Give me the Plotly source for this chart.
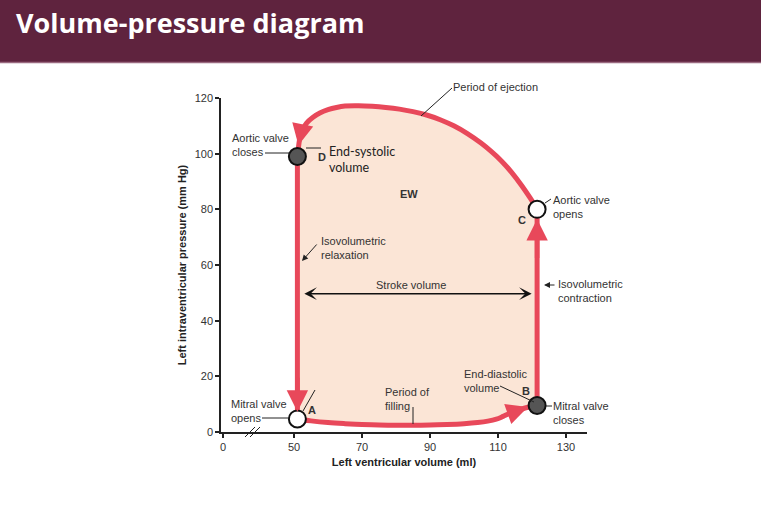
import plotly.graph_objects as go

# ---------------- data ----------------
# Point labels of the cycle (volume ml, pressure mmHg)
point_names = ["A", "B", "C", "D"]
point_vol = [51.0, 121.5, 121.5, 51.0]
point_p = [4.7, 9.5, 80.0, 99.0]
point_filled = [False, True, False, True]

# Isovolumetric relaxation (D -> A)
relax_vol = [51.0, 51.0]
relax_p = [99.0, 4.7]

# Period of filling (A -> B)
fill_vol = [51.0, 52.5, 55, 60, 65, 70, 75, 80, 85, 90, 95, 100, 104, 107, 109.5, 111.5, 113.5, 116, 118.5, 121.5]
fill_p = [4.7, 4.4, 4.0, 3.4, 3.0, 2.7, 2.5, 2.4, 2.4, 2.5, 2.7, 3.0, 3.4, 3.9, 4.6, 5.6, 6.7, 7.8, 8.8, 9.5]

# Isovolumetric contraction (B -> C)
contr_vol = [121.5, 121.5]
contr_p = [9.5, 80.0]

# Period of ejection (C -> D)
eject_vol = [121.5, 119.5, 117, 114, 111, 108, 105, 101, 97, 93, 89, 85, 81, 77, 73, 69,
             65, 62.5, 60, 57.6, 55.5, 53.7, 52.6, 51.8, 51.2]
eject_p = [80, 84.0, 88.5, 93.3, 97.4, 100.8, 103.8, 107.2, 110.0, 112.2, 113.9, 115.1, 116.0, 116.6,
           117.0, 117.2, 117.1, 116.6, 115.8, 114.6, 113.0, 111.0, 108.8, 106.0, 101.0]

# Stroke volume arrow (ml) at pressure level
stroke_vol = [52.6, 119.9]
stroke_p = 49.7

# Axis ticks (broken x axis: "0" placed just before 50)
x_tickvals = [29.1, 50, 70, 90, 110, 130]
x_ticktext = ["0", "50", "70", "90", "110", "130"]
y_tickvals = [0, 20, 40, 60, 80, 100, 120]

# ---------------- layout geometry helpers ----------------
W, H = 761, 507
L, R, T, B = 221, 174, 98, 75
XR = [50 - 73 / 3.4, 50 + 293 / 3.4]
YR = [0, 120]
PW, PH = W - L - R, H - T - B


def pxp(px):
    return (px - L) / PW


def pyp(py):
    return (H - B - py) / PH


RED = "#e8485a"
FILL = "#fbe5d6"
TXT = "#333333"
FONT = "Liberation Sans, Arial, sans-serif"

fig = go.Figure()

# filled loop area
loop_vol = relax_vol + fill_vol + contr_vol + eject_vol
loop_p = relax_p + fill_p + contr_p + eject_p
fig.add_trace(go.Scatter(x=loop_vol, y=loop_p, mode="lines", fill="toself",
                         fillcolor=FILL, line=dict(width=0), hoverinfo="skip"))

# red loop outline
for xs, ys, shp in [(relax_vol, relax_p, "linear"), (fill_vol, fill_p, "spline"),
                    (contr_vol, contr_p, "linear"), (eject_vol, eject_p, "spline")]:
    fig.add_trace(go.Scatter(x=xs, y=ys, mode="lines", line=dict(color=RED, width=5, shape=shp),
                             hoverinfo="skip"))

# valve circles
fig.add_trace(go.Scatter(
    x=point_vol, y=point_p, mode="markers",
    marker=dict(size=17, color=["#555555" if f else "white" for f in point_filled],
                line=dict(color="#111111", width=2)),
    hoverinfo="skip"))

ann = []
shapes = []


# red arrowheads along the loop
def red_arrow(tip, tail):
    ann.append(dict(x=tip[0], y=tip[1], ax=tail[0], ay=tail[1], xref="x", yref="y",
                    axref="x", ayref="y", text="", showarrow=True, arrowhead=2,
                    arrowsize=0.95, arrowwidth=4.5, arrowcolor=RED, standoff=0))


red_arrow((relax_vol[1], 7.3), (relax_vol[1], 20))
red_arrow((118.8, 9.0), (112.5, 6.3))
red_arrow((contr_vol[1], 76.5), (contr_vol[1], 62))
red_arrow((51.3, 103.0), (52.4, 109.5))

# stroke volume double arrow
ann.append(dict(x=stroke_vol[1], y=stroke_p, ax=stroke_vol[0], ay=stroke_p, xref="x", yref="y",
                axref="x", ayref="y", text="", showarrow=True, arrowhead=3, startarrowhead=3,
                arrowside="end+start", arrowsize=1.4, startarrowsize=1.4, arrowwidth=1.5,
                arrowcolor="#111111", standoff=0, startstandoff=0))


def text(px, py, s, size=11, anchor="left", bold=False, family=FONT, color=TXT):
    ann.append(dict(x=pxp(px), y=pyp(py), xref="paper", yref="paper",
                    text=("<b>%s</b>" % s) if bold else s,
                    showarrow=False, xanchor=anchor, yanchor="middle", align="left",
                    font=dict(size=size, family=family, color=color)))


def leader(p0, p1):
    shapes.append(dict(type="line", xref="paper", yref="paper", x0=pxp(p0[0]), y0=pyp(p0[1]),
                       x1=pxp(p1[0]), y1=pyp(p1[1]), line=dict(color="#222222", width=1)))


def small_arrow(tail, tip):
    ann.append(dict(x=pxp(tip[0]), y=pyp(tip[1]), ax=tail[0] - tip[0], ay=tail[1] - tip[1],
                    xref="paper", yref="paper", axref="pixel", ayref="pixel",
                    text="", showarrow=True, arrowhead=2, arrowsize=1.2,
                    arrowwidth=1, arrowcolor="#222222", standoff=0))


text(451, 87, "Period of ejection")
leader((421, 116), (452, 88))
text(230, 145, "Aortic valve<br>closes")
leader((265, 153), (290, 153))
leader((306, 148), (321, 148))
text(316, 157, "D", bold=True)
text(327, 159, "End-systolic<br>volume", size=12.5, family="Lato, Open Sans, sans-serif", color="#222222")
text(409, 194, "EW", bold=True, anchor="center")
text(319, 248, "Isovolumetric<br>relaxation")
small_arrow((318, 243), (302, 261))
text(411, 285, "Stroke volume", anchor="center")
text(556, 291, "Isovolumetric<br>contraction")
small_arrow((556, 285), (544, 285))
text(551, 207, "Aortic valve<br>opens")
leader((545, 203), (551, 199))
text(522, 220, "C", bold=True, anchor="center")
text(229, 411, "Mitral valve<br>opens")
leader((262, 418), (289, 418))
text(312, 410, "A", bold=True, anchor="center")
leader((303, 411), (315, 390))
text(383, 398.5, "Period of<br>filling")
leader((413, 407), (413, 424))
text(462, 381, "End-diastolic<br>volume")
leader((500, 386), (534, 402))
text(526, 391, "B", bold=True, anchor="center")
text(551, 413, "Mitral valve<br>closes")
leader((546, 406), (552, 406))

# axis break marks
leader((245, 437), (255, 427))
leader((250, 437), (260, 427))

# header bar
shapes.append(dict(type="rect", xref="paper", yref="paper", x0=pxp(0), x1=pxp(W), y0=pyp(62), y1=pyp(0),
                   fillcolor="#5f233e", line=dict(width=0), layer="below"))
shapes.append(dict(type="line", xref="paper", yref="paper", x0=pxp(0), x1=pxp(W), y0=pyp(62.5), y1=pyp(62.5),
                   line=dict(color="#9a6a80", width=1.5)))
ann.append(dict(x=pxp(14), y=pyp(23), xref="paper", yref="paper", text="<b>Volume-pressure diagram</b>",
                showarrow=False, xanchor="left", yanchor="middle",
                font=dict(size=27, family="Open Sans, sans-serif", color="white")))

fig.update_layout(
    width=W, height=H, margin=dict(l=L, r=R, t=T, b=B),
    paper_bgcolor="white", plot_bgcolor="white", showlegend=False,
    font=dict(family=FONT, size=11, color=TXT),
    annotations=ann, shapes=shapes,
    xaxis=dict(range=XR, tickvals=x_tickvals, ticktext=x_ticktext, showgrid=False, zeroline=False,
               showline=True, linecolor="#222222", linewidth=1.5, ticks="outside", ticklen=4,
               tickwidth=1.5, tickcolor="#222222", tickfont=dict(size=11, color=TXT),
               title=dict(text="<b>Left ventricular volume (ml)</b>", font=dict(size=11, color="#222222"),
                          standoff=6),
               fixedrange=True),
    yaxis=dict(range=YR, tickvals=y_tickvals, showgrid=False, zeroline=False,
               showline=True, linecolor="#222222", linewidth=1.5, ticks="outside", ticklen=4,
               tickwidth=1.5, tickcolor="#222222", tickfont=dict(size=11, color=TXT),
               title=dict(text="<b>Left intraventricular pressure (mm Hg)</b>",
                          font=dict(size=11, color="#222222"), standoff=6),
               fixedrange=True),
)

fig.write_html("out.html", config={"displayModeBar": False},
               post_script="document.body.style.margin='0';document.body.style.overflow='hidden';")
